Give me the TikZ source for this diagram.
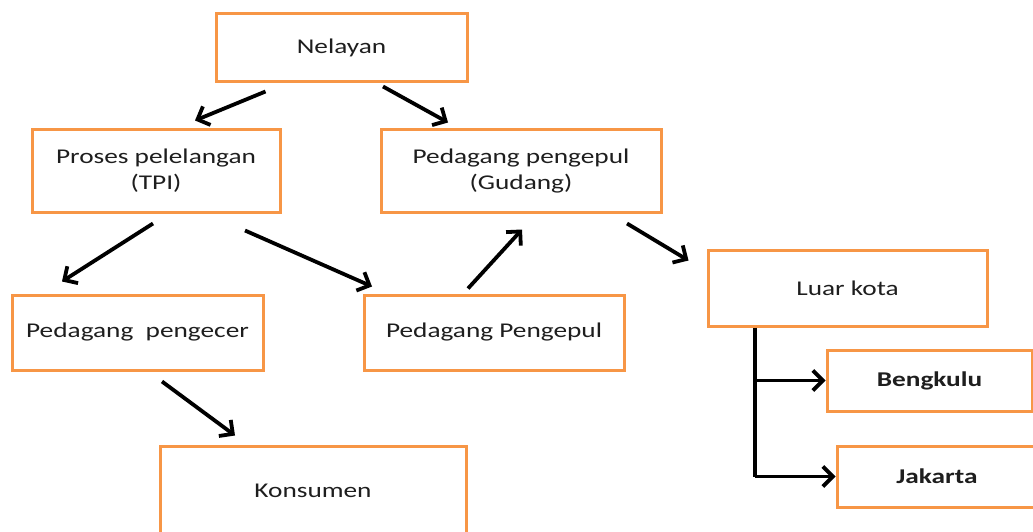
\documentclass[tikz,border=0pt]{standalone}
\usepackage{fontspec}
\setmainfont{Carlito}[FakeStretch=1.3]
\usetikzlibrary{arrows.meta}
\definecolor{boxorange}{HTML}{F79646}
\definecolor{txt}{HTML}{1E1E1E}
\begin{document}
\begin{tikzpicture}[x=1pt,y=-1pt,
  box/.style={draw=boxorange,line width=3pt,fill=white,rectangle,inner sep=0pt,
    align=center,text=txt,font=\fontsize{21}{26}\selectfont},
  arr/.style={line width=3.8pt,-{Straight Barb[length=10pt,width=20pt]}},
  trunkline/.style={line width=3.8pt}]
\useasboundingbox (0,0) rectangle (1033,532);
\clip (0,0) rectangle (1033,532);
\node[box,minimum width=251pt,minimum height=68pt] (nel) at (341.5,48) {Nelayan};
\node[box,minimum width=248pt,minimum height=82pt] (pro) at (156,171) {Proses pelelangan\\(TPI)};
\node[box,minimum width=280pt,minimum height=82pt] (gud) at (521,171) {Pedagang pengepul\\(Gudang)};
\node[box,minimum width=279pt,minimum height=76pt] (luar) at (847.5,288) {Luar kota};
\node[box,minimum width=251pt,minimum height=75pt] (pec) at (137.5,332.5) {Pedagang\ \ pengecer};
\node[box,minimum width=260pt,minimum height=75pt] (ppe) at (494,332.5) {Pedagang Pengepul};
\node[box,minimum width=205pt,minimum height=61pt,font=\fontsize{21}{26}\selectfont\bfseries] (ben) at (929.5,380.5) {Bengkulu};
\node[box,minimum width=200pt,minimum height=61pt,font=\fontsize{21}{26}\selectfont\bfseries] (jak) at (937,476.5) {Jakarta};
\node[box,minimum width=306pt,minimum height=90pt] (kon) at (313,491) {Konsumen};
\draw[arr] ([shift={(-76,8)}]nel.south) -- ([shift={(39,-8)}]pro.north);
\draw[arr] ([shift={(41.5,3)}]nel.south) -- ([shift={(-73,-6)}]gud.north);
\draw[arr] ([shift={(-3,10)}]pro.south) -- ([shift={(-75.5,-12)}]pec.north);
\draw[arr] ([shift={(89,17)}]pro.south) -- ([shift={(-122,-7)}]ppe.north);
\draw[arr] ([shift={(-26,-5)}]ppe.north) -- ([shift={(1,16)}]gud.south);
\draw[arr] ([shift={(106,10)}]gud.south) -- ([shift={(-18,12)}]luar.north west);
\draw[arr] ([shift={(24.5,10)}]pec.south) -- ([shift={(-78,-9)}]kon.north);
\coordinate (trunk) at ([xshift=-92.5]luar.south);
\draw[trunkline] (trunk) -- (trunk |- jak.west);
\draw[arr] (trunk |- ben.west) -- (ben.west);
\draw[arr] (trunk |- jak.west) -- (jak.west);
\end{tikzpicture}
\end{document}
